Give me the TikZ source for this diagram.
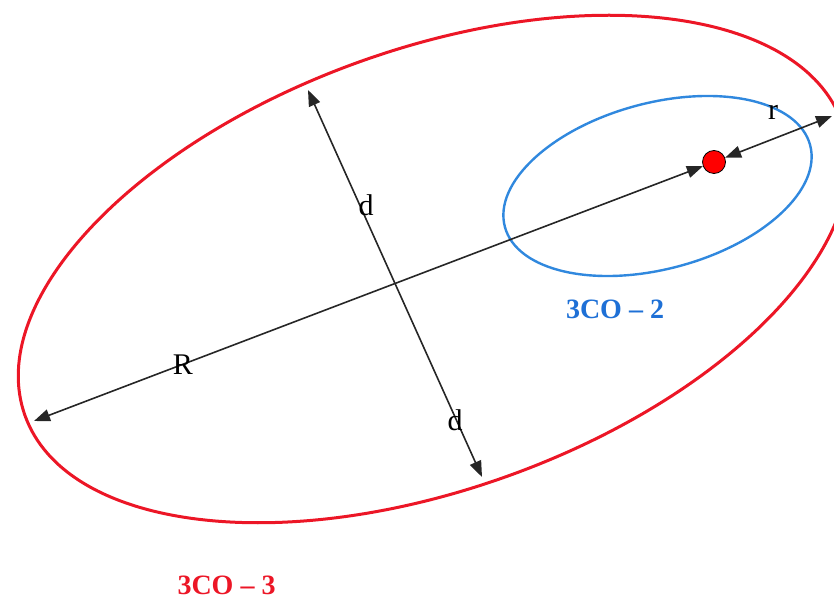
\documentclass[tikz,border=0pt]{standalone}
\usepackage{fontspec}
\setmainfont{Liberation Serif}
\usepackage{tikz}
\usetikzlibrary{arrows.meta}
\definecolor{orbred}{RGB}{236,22,38}
\definecolor{orbblue}{RGB}{48,136,222}
\definecolor{lblblue}{RGB}{30,112,214}
\tikzset{
    % 黑色双向箭头
    dimarrow/.style={
        line width=1.6pt,
        black!85,
        <->,
        >={Triangle[length=16pt, width=12pt]}
    },
    redorbit/.style={line width=3pt, orbred},
    blueorbit/.style={line width=2.4pt, orbblue},
    lbl/.style={font=\fontsize{30}{32}\selectfont},
    tag/.style={font=\fontsize{28}{30}\selectfont\bfseries}
}

\begin{document}
\begin{tikzpicture}[x=1pt,y=1pt]
	\useasboundingbox (0,0) rectangle (834,600);
	
	\path 
	(433.5,331) coordinate (c3)
	(657.5,414) coordinate (c2)
	
	(34,179) coordinate (R1)
	(308,510) coordinate (d1)
	(482,123) coordinate (d2)
	(832,484) coordinate (r2);
	
	% 轨道
	\draw[redorbit] (c3) ellipse[x radius=434pt, y radius=220pt, rotate=19.75];
	\draw[blueorbit] (c2) ellipse[x radius=158pt, y radius=83pt, rotate=15];
	
	% 红色实心点
	\node[circle, draw=black, line width=0.8pt, fill=red, minimum size=23pt, inner sep=0pt] (e) at (714,438) {};
	
	% 箭头
	\draw[dimarrow] (R1) -- (e);
	\draw[dimarrow] (d1) -- (d2);
	\draw[dimarrow] (e) -- (r2);
	
	% 文字标注
	\node[lbl] (labR) at (183,235) {R};
	\node[lbl] (labd1) at (366,395) {d};
	\node[lbl] (labd2) at (455,180) {d};
	\node[lbl] (labr) at (773,488) {r};
	
	\node[tag, text=lblblue] (lab2) at (615,291) {3CO – 2};
	\node[tag, text=orbred] (lab3) at (226.5,15) {3CO – 3};
\end{tikzpicture}
\end{document}
